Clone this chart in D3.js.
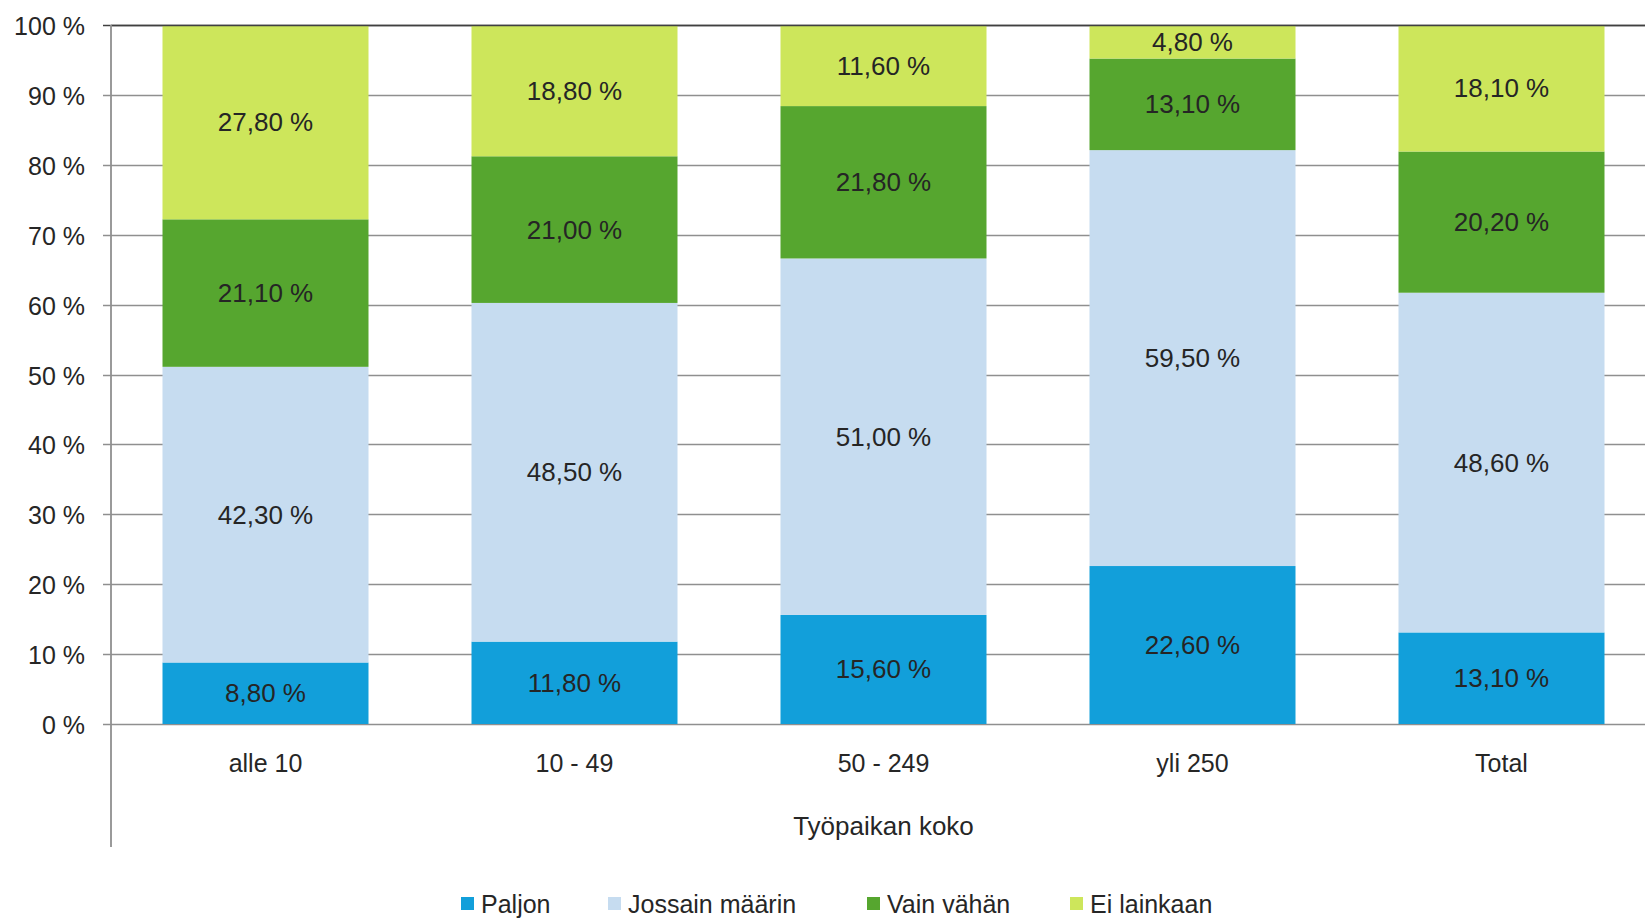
<!DOCTYPE html>
<html>
<head>
<meta charset="utf-8">
<script src="https://cdn.jsdelivr.net/npm/d3@7"></script>
<style>
  html, body { margin: 0; padding: 0; background: #fff; }
  svg { display: block; font-family: Arial, "Liberation Sans", sans-serif; }
</style>
</head>
<body>
<svg id="chart" width="1645" height="918"></svg>
<script>
// Workplace size groups and the share of answers per group (%)
const categories = ["alle 10", "10 - 49", "50 - 249", "yli 250", "Total"];
const seriesNames = ["Paljon", "Jossain määrin", "Vain vähän", "Ei lainkaan"];
const paljon   = [8.8, 11.8, 15.6, 22.6, 13.1];
const jossain  = [42.3, 48.5, 51.0, 59.5, 48.6];
const vainVahan = [21.1, 21.0, 21.8, 13.1, 20.2];
const eiLainkaan = [27.8, 18.8, 11.6, 4.8, 18.1];
const yTicks = [0, 10, 20, 30, 40, 50, 60, 70, 80, 90, 100];
const xTitle = "Työpaikan koko";
const colors = ["#129fda", "#c6dcf0", "#56a62f", "#cde65b"];

const seriesValues = [paljon, jossain, vainVahan, eiLainkaan];
const rows = categories.map((c, i) => {
  const r = { category: c };
  seriesNames.forEach((s, k) => { r[s] = seriesValues[k][i]; });
  return r;
});

const svg = d3.select("#chart");
const plot = { left: 111, top: 25, bottom: 724, right: 1656 };

const x = d3.scaleBand()
  .domain(categories)
  .range([plot.left, plot.right])
  .paddingInner(1 / 3)
  .paddingOuter(1 / 6);

const y = d3.scaleLinear().domain([0, 1]).range([plot.bottom, plot.top]);

// 100 % stacked layout: each column is normalised to its own total
const stack = d3.stack().keys(seriesNames).offset(d3.stackOffsetExpand);
const layers = stack(rows);

// horizontal gridlines
svg.append("g")
  .selectAll("line")
  .data(yTicks)
  .join("line")
  .attr("x1", plot.left - 8)
  .attr("x2", 1645)
  .attr("y1", d => Math.round(y(d / 100)) + 0.5)
  .attr("y2", d => Math.round(y(d / 100)) + 0.5)
  .attr("stroke", d => d === 100 ? "#404040" : "#8f8f8f")
  .attr("stroke-width", 1.6);

// stacked bars
const layerG = svg.append("g")
  .selectAll("g")
  .data(layers)
  .join("g")
  .attr("fill", (d, i) => colors[i]);

layerG.selectAll("rect")
  .data(d => d)
  .join("rect")
  .attr("x", d => x(d.data.category))
  .attr("width", x.bandwidth())
  .attr("y", d => y(d[1]))
  .attr("height", d => y(d[0]) - y(d[1]));

// value labels in the middle of each segment
const fmt = v => v.toFixed(2).replace(".", ",") + " %";
layerG.selectAll("text")
  .data((d, i) => d.map(p => ({ p, key: d.key })))
  .join("text")
  .attr("x", d => x(d.p.data.category) + x.bandwidth() / 2)
  .attr("y", d => (y(d.p[0]) + y(d.p[1])) / 2)
  .attr("text-anchor", "middle")
  .attr("dominant-baseline", "central")
  .attr("fill", "#252525")
  .attr("font-size", 26)
  .text(d => fmt(d.p.data[d.key]));

// top border line over the bars
svg.append("line")
  .attr("x1", plot.left).attr("x2", 1645)
  .attr("y1", Math.round(y(1)) + 0.5).attr("y2", Math.round(y(1)) + 0.5)
  .attr("stroke", "#404040").attr("stroke-width", 1.6);

// vertical axis line
svg.append("line")
  .attr("x1", plot.left).attr("x2", plot.left)
  .attr("y1", plot.top).attr("y2", 847)
  .attr("stroke", "#8f8f8f").attr("stroke-width", 1.8);

// y tick labels
svg.append("g")
  .selectAll("text")
  .data(yTicks)
  .join("text")
  .attr("x", 85)
  .attr("y", d => y(d / 100) + 1)
  .attr("text-anchor", "end")
  .attr("dominant-baseline", "central")
  .attr("fill", "#262626")
  .attr("font-size", 25)
  .text(d => d + " %");

// category labels
svg.append("g")
  .selectAll("text")
  .data(categories)
  .join("text")
  .attr("x", d => x(d) + x.bandwidth() / 2)
  .attr("y", 772)
  .attr("text-anchor", "middle")
  .attr("fill", "#262626")
  .attr("font-size", 25)
  .text(d => d);

// axis title
svg.append("text")
  .attr("x", (plot.left + plot.right) / 2)
  .attr("y", 835)
  .attr("text-anchor", "middle")
  .attr("fill", "#262626")
  .attr("font-size", 26)
  .text(xTitle);

// legend
const legendX = [461, 608, 867, 1070];
const legend = svg.append("g")
  .selectAll("g")
  .data(seriesNames)
  .join("g")
  .attr("transform", (d, i) => `translate(${legendX[i]},0)`);
legend.append("rect")
  .attr("x", 0).attr("y", 897)
  .attr("width", 13).attr("height", 13)
  .attr("fill", (d, i) => colors[i]);
legend.append("text")
  .attr("x", 20).attr("y", 913)
  .attr("fill", "#262626")
  .attr("font-size", 25)
  .text(d => d);
</script>
</body>
</html>
